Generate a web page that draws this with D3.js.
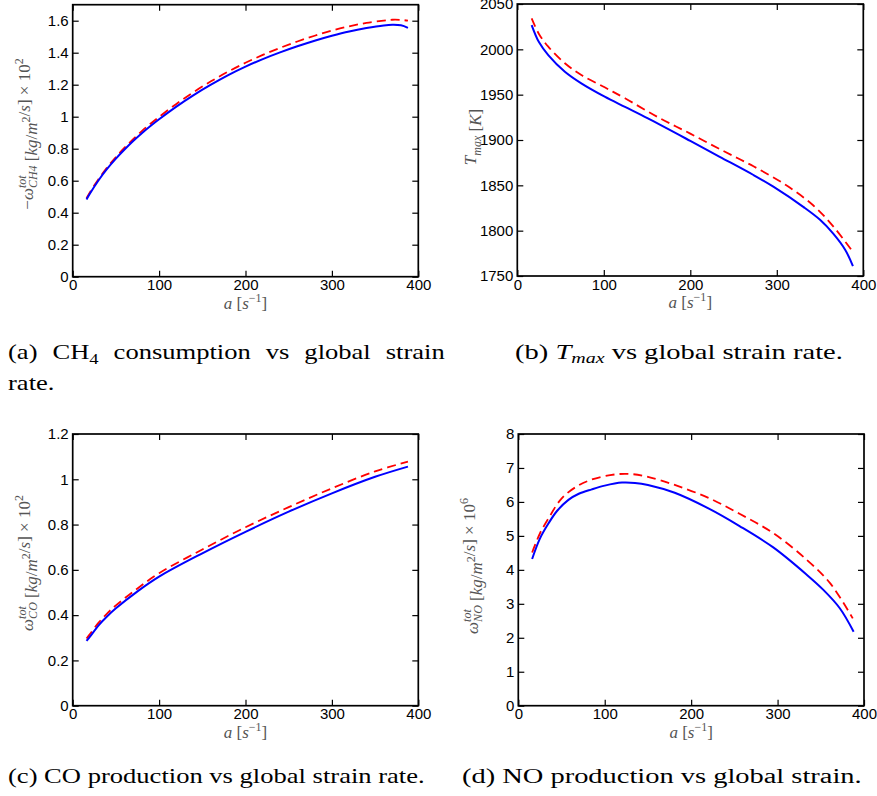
<!DOCTYPE html>
<html><head><meta charset="utf-8">
<script src="https://cdn.jsdelivr.net/npm/d3@7/dist/d3.min.js"></script>
<style>body{margin:0;background:#fff}svg{display:block}</style>
</head><body>
<script>
// ---- data ----
const aCH4 = [16,20,30,40,50,60,70,80,90,100,120,140,160,180,200,220,240,260,280,300,320,340,360,370,380,388];
const ch4Blue = [0.483,0.52,0.603,0.675,0.738,0.795,0.848,0.897,0.942,0.984,1.063,1.135,1.200,1.260,1.313,1.360,1.402,1.440,1.475,1.506,1.533,1.554,1.570,1.574,1.571,1.555];
const ch4Red  = [0.49,0.528,0.611,0.684,0.748,0.806,0.860,0.910,0.956,0.999,1.080,1.154,1.221,1.282,1.337,1.386,1.430,1.470,1.506,1.538,1.565,1.586,1.601,1.606,1.605,1.600];

const aTBlue = [16.6,25,35.8,55,74,101,124.5,151,200,234,273,296,331,350,365,379,388];
const tBlue  = [2026.8,2008,1993.7,1975.3,1962.5,1947.8,1936.5,1923.8,1899,1881.5,1861.4,1848.5,1826,1812,1797,1779,1761];
const aTRed  = [16.6,25,35.8,55,74,101,124.5,163,200,238,273,311,342,365,387];
const tRed   = [2034.2,2017,2002.9,1984.6,1971.7,1958.1,1946,1925,1907,1888,1871,1850,1828,1805,1777.9];

const aCO = [16,20,30,40,50,75,100,150,200,250,300,350,388];
const coBlue = [0.286,0.305,0.355,0.395,0.43,0.505,0.57,0.673,0.768,0.857,0.938,1.011,1.056];
const coRed  = [0.297,0.317,0.367,0.408,0.443,0.518,0.585,0.69,0.788,0.877,0.96,1.035,1.078];

const aNOBlue = [16,25,35,45,58,70,85,100,120,135,150,181,220,256,295,334,353,372,388];
const noBlue  = [4.32,4.92,5.37,5.74,6.06,6.24,6.37,6.48,6.57,6.56,6.50,6.27,5.81,5.29,4.66,3.85,3.41,2.87,2.18];
const aNORed  = [16,25,35,50,66,85,112,131,150,181,220,256,295,334,361,387];
const noRed   = [4.51,5.07,5.52,6.10,6.43,6.66,6.81,6.82,6.74,6.50,6.12,5.65,5.08,4.29,3.60,2.57];

const xTicks = [0,100,200,300,400];
const ticksA = [0,0.2,0.4,0.6,0.8,1,1.2,1.4,1.6];
const ticksB = [1750,1800,1850,1900,1950,2000,2050];
const ticksC = [0,0.2,0.4,0.6,0.8,1,1.2];
const ticksD = [0,1,2,3,4,5,6,7,8];

const W = 877, H = 796;
const svg = d3.select("body").append("svg").attr("width", W).attr("height", H);
const serif = "'Liberation Serif', 'DejaVu Serif', serif";

const panels = [
  {l:72.7, r:418.3, t:4.7, b:276.7, dom:[0,1.7], ticks:ticksA, xb:aCH4, blue:ch4Blue, xr:aCH4, red:ch4Red,
   ylab:{x:33, y:134, parts:[["−ω"],["tot","sup"],["CH4","sub"],[" [kg/m"],["2","sup2"],["/s] × 10"],["2","sup2"]]}},
  {l:517.3, r:863.3, t:4, b:276, dom:[1750,2050], ticks:ticksB, xb:aTBlue, blue:tBlue, xr:aTRed, red:tRed,
   ylab:{x:476, y:137, parts:[["T"],["max","subonly"],[" [K]"]]}},
  {l:72.7, r:418.3, t:434, b:705.7, dom:[0,1.2], ticks:ticksC, xb:aCO, blue:coBlue, xr:aCO, red:coRed,
   ylab:{x:33, y:563, parts:[["ω"],["tot","sup"],["CO","sub"],[" [kg/m"],["2","sup2"],["/s] × 10"],["2","sup2"]]}},
  {l:518.3, r:864, t:434, b:705.7, dom:[0,8], ticks:ticksD, xb:aNOBlue, blue:noBlue, xr:aNORed, red:noRed,
   ylab:{x:478, y:566, parts:[["ω"],["tot","sup"],["NO","sub"],[" [kg/m"],["2","sup2"],["/s] × 10"],["6","sup2"]]}}
];

const fmt = d => String(+(+d).toFixed(2));
const MAIN = 17, SCR = 12;

panels.forEach(p => {
  const x = d3.scaleLinear().domain([0,400]).range([p.l, p.r]);
  const y = d3.scaleLinear().domain(p.dom).range([p.b, p.t]);
  const g = svg.append("g");
  const tickStyle = sel => {
    sel.select(".domain").remove();
    sel.selectAll("line").attr("stroke","#000").attr("stroke-width",1.2);
    sel.selectAll("text").attr("font-family","'Liberation Sans', Arial, sans-serif").attr("font-size",15).attr("fill","#000");
  };
  g.append("g").attr("transform",`translate(0,${p.b})`)
    .call(d3.axisBottom(x).tickValues(xTicks).tickSize(-6).tickPadding(3).tickFormat(fmt)).call(tickStyle);
  g.append("g").attr("transform",`translate(0,${p.t})`)
    .call(d3.axisTop(x).tickValues(xTicks).tickSize(-6).tickFormat("")).call(tickStyle);
  g.append("g").attr("transform",`translate(${p.l},0)`)
    .call(d3.axisLeft(y).tickValues(p.ticks).tickSize(-6).tickPadding(4).tickFormat(fmt)).call(tickStyle);
  g.append("g").attr("transform",`translate(${p.r},0)`)
    .call(d3.axisRight(y).tickValues(p.ticks).tickSize(-6).tickFormat("")).call(tickStyle);
  g.append("rect").attr("x",p.l).attr("y",p.t).attr("width",p.r-p.l).attr("height",p.b-p.t)
    .attr("fill","none").attr("stroke","#000").attr("stroke-width",1.7);

  const curve = d3.curveCatmullRom.alpha(0.5);
  const lineB = d3.line().x((d,i)=>x(p.xb[i])).y(d=>y(d)).curve(curve);
  const lineR = d3.line().x((d,i)=>x(p.xr[i])).y(d=>y(d)).curve(curve);
  g.append("path").attr("d", lineR(p.red)).attr("fill","none").attr("stroke","#ff0000")
    .attr("stroke-width",1.8).attr("stroke-dasharray","9,5");
  g.append("path").attr("d", lineB(p.blue)).attr("fill","none").attr("stroke","#0000ff")
    .attr("stroke-width",2);

  // x label
  const xl = g.append("text").attr("x",(p.l+p.r)/2).attr("y",p.b+32).attr("text-anchor","middle")
    .attr("font-family",serif).attr("font-size",MAIN).attr("fill","#555");
  xl.append("tspan").attr("font-style","italic").text("a");
  xl.append("tspan").text(" [");
  xl.append("tspan").attr("font-style","italic").text("s");
  xl.append("tspan").attr("font-size",SCR).attr("dy",-7).text("−1");
  xl.append("tspan").attr("dy",7).text("]");

  // y label
  const yl = g.append("text").attr("transform",`translate(${p.ylab.x},${p.ylab.y}) rotate(-90)`)
    .attr("text-anchor","middle").attr("font-family",serif)
    .attr("font-size",MAIN).attr("fill","#555");
  let lastSupW = 0;
  p.ylab.parts.forEach(([t,kind]) => {
    if (!kind) {
      const tokens = t.match(/[A-Za-zω]+|[^A-Za-zω]+/g);
      tokens.forEach(tok => {
        const isLetter = /^[A-Za-zω]+$/.test(tok);
        yl.append("tspan").attr("font-style", isLetter ? "italic" : null).text(tok);
      });
      return;
    }
    const ts = yl.append("tspan");
    if (kind === "sup") {
      ts.attr("font-size",SCR).attr("font-style","italic").attr("dy",-7).text(t);
      lastSupW = ts.node().getComputedTextLength();
    } else if (kind === "sub") {
      ts.attr("font-size",SCR).attr("font-style","italic").attr("dx",-lastSupW).attr("dy",11).text(t);
      const sw = ts.node().getComputedTextLength();
      const after = yl.append("tspan").attr("dy",-4).text("");
      if (lastSupW > sw) after.attr("dx", lastSupW - sw);
    } else if (kind === "sup2") {
      ts.attr("font-size",SCR).attr("dy",-7).text(t);
      yl.append("tspan").attr("dy",7).text("");
    } else if (kind === "subonly") {
      ts.attr("font-size",SCR).attr("font-style","italic").attr("dy",5).text(t);
      yl.append("tspan").attr("dy",-5).text("");
    }
  });
});

// captions
function caption(xp, yp, target, build, justify, fixedSx) {
  const t = svg.append("text").attr("font-family",serif).attr("font-size",20).attr("fill","#000");
  build(t);
  const w = t.node().getComputedTextLength();
  let sx = fixedSx || (target ? target / w : 1.07);
  if (justify) {
    const nsp = (t.text().match(/ /g) || []).length;
    t.attr("word-spacing", (target / sx - w) / nsp);
  }
  t.attr("transform", `translate(${xp},${yp}) scale(${sx},1)`);
  return sx;
}
const sxC = caption(8, 783, 417, t => t.text("(c) CO production vs global strain rate."));
caption(462, 783, 400, t => t.text("(d) NO production vs global strain."));
caption(8, 359, 437, t => {
  t.append("tspan").text("(a) CH");
  t.append("tspan").attr("font-size",14).attr("dy",5).text("4");
  t.append("tspan").attr("dy",-5).text(" consumption vs global strain");
}, true, sxC);
caption(8, 390, null, t => t.text("rate."), false, sxC);
caption(515, 359, 328, t => {
  t.append("tspan").text("(b) ");
  t.append("tspan").attr("font-style","italic").text("T");
  t.append("tspan").attr("font-size",14).attr("font-style","italic").attr("dy",4).text("max");
  t.append("tspan").attr("dy",-4).text(" vs global strain rate.");
});
</script>
</body></html>
